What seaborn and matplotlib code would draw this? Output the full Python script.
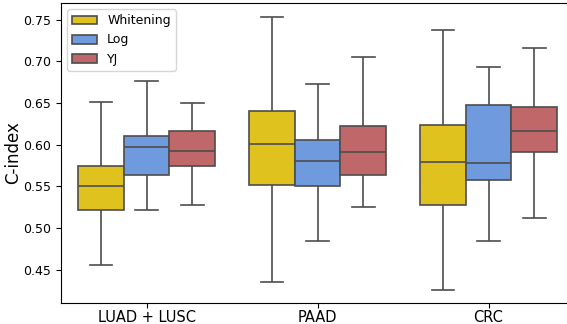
import numpy as np
import pandas as pd
import matplotlib
matplotlib.use("Agg")
import matplotlib.pyplot as plt
import seaborn as sns

# Box summaries: [low whisker, q1, median, q3, high whisker]
datasets = ["LUAD + LUSC", "PAAD", "CRC"]
methods = ["Whitening", "Log", "YJ"]

luad_whitening = [0.455, 0.522, 0.550, 0.574, 0.651]
luad_log = [0.521, 0.564, 0.597, 0.610, 0.676]
luad_yj = [0.527, 0.575, 0.593, 0.617, 0.650]

paad_whitening = [0.435, 0.551, 0.601, 0.641, 0.753]
paad_log = [0.484, 0.550, 0.580, 0.606, 0.673]
paad_yj = [0.525, 0.564, 0.591, 0.623, 0.705]

crc_whitening = [0.426, 0.528, 0.579, 0.624, 0.738]
crc_log = [0.484, 0.557, 0.578, 0.648, 0.693]
crc_yj = [0.512, 0.591, 0.617, 0.645, 0.716]

palette = ["#e0c21f", "#6f9ade", "#c0676a"]

values = {
    ("LUAD + LUSC", "Whitening"): luad_whitening,
    ("LUAD + LUSC", "Log"): luad_log,
    ("LUAD + LUSC", "YJ"): luad_yj,
    ("PAAD", "Whitening"): paad_whitening,
    ("PAAD", "Log"): paad_log,
    ("PAAD", "YJ"): paad_yj,
    ("CRC", "Whitening"): crc_whitening,
    ("CRC", "Log"): crc_log,
    ("CRC", "YJ"): crc_yj,
}

rows = []
for (ds, m), vals in values.items():
    for v in vals:
        rows.append({"Dataset": ds, "Method": m, "C-index": v})
df = pd.DataFrame(rows)

fig = plt.figure(figsize=(5.67, 3.24), dpi=100)
ax = fig.add_axes([61 / 567, 21 / 324, 513 / 567, 300 / 324])

sns.boxplot(data=df, x="Dataset", y="C-index", hue="Method",
            order=datasets, hue_order=methods, palette=palette,
            saturation=1, whis=(0, 100), linecolor="0.3", linewidth=1.2,
            width=0.8, gap=0, ax=ax)

ax.set_xlim(-0.5, 2.5)
ax.set_ylim(0.410, 0.770)
ax.set_yticks([0.45, 0.50, 0.55, 0.60, 0.65, 0.70, 0.75])
ax.set_xlabel("")
ax.set_ylabel("C-index", fontsize=12, labelpad=1)
ax.tick_params(axis="y", labelsize=9)
ax.tick_params(axis="x", labelsize=10.5, pad=1.5)

ax.legend(loc="upper left", fontsize=9, framealpha=0.8)

fig.savefig("out.png", dpi=100)
